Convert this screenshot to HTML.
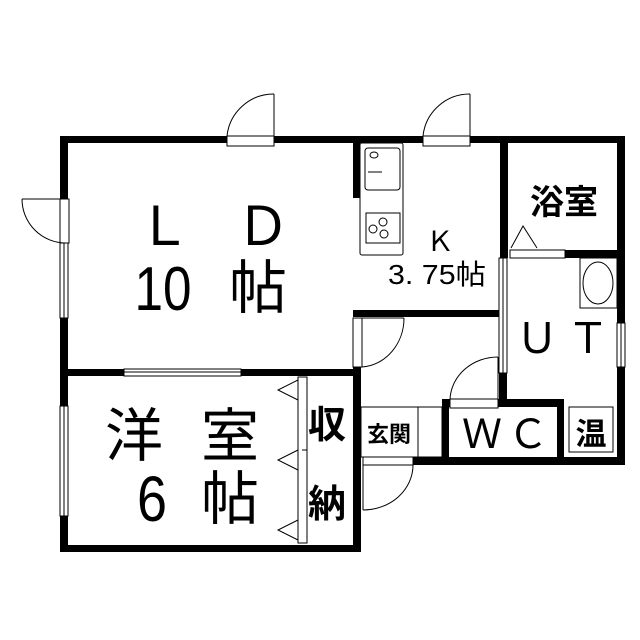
<!DOCTYPE html>
<html><head><meta charset="utf-8"><style>html,body{margin:0;padding:0;background:#fff}svg{display:block}</style></head>
<body>
<svg width="640" height="640" viewBox="0 0 640 640" xmlns="http://www.w3.org/2000/svg" font-family="'Liberation Sans','Noto Sans CJK JP',sans-serif">
<g fill="#000">
<rect x="60" y="136" width="565" height="7"/>
<rect x="60" y="136" width="8" height="64"/>
<rect x="60" y="318" width="8" height="88"/>
<rect x="60" y="516" width="8" height="36"/>
<rect x="60" y="545" width="301" height="7"/>
<rect x="353" y="367" width="8" height="185"/>
<rect x="60" y="369" width="301" height="7"/>
<rect x="353" y="140" width="7" height="58"/>
<rect x="353" y="310" width="150" height="7"/>
<rect x="500" y="140" width="8" height="118"/>
<rect x="565" y="250" width="60" height="8"/>
<rect x="617" y="136" width="8" height="187"/>
<rect x="617" y="367" width="8" height="98"/>
<rect x="499" y="373" width="8" height="34"/>
<rect x="442" y="399" width="122" height="8"/>
<rect x="442" y="399" width="7" height="66"/>
<rect x="557" y="399" width="7" height="66"/>
<rect x="413" y="457" width="212" height="8"/>
</g>
<g fill="#fff" stroke="#000" stroke-width="1">
<rect x="227" y="136" width="47" height="10"/>
<rect x="423" y="136" width="47" height="10"/>
<rect x="60" y="199" width="9" height="44"/>
<rect x="60" y="243" width="8" height="75"/>
<line x1="64" y1="243" x2="64" y2="318"/>
<rect x="60" y="406" width="8" height="110"/>
<line x1="64" y1="406" x2="64" y2="516"/>
<rect x="124" y="369" width="117" height="7"/>
<line x1="124" y1="372" x2="241" y2="372"/>
<rect x="360" y="143" width="43" height="112" rx="2"/>
<rect x="365" y="148" width="35" height="42" rx="3"/>
<rect x="366" y="213" width="34" height="30"/>
<rect x="510" y="250" width="55" height="8"/>
<rect x="499" y="258" width="8" height="115"/>
<line x1="503" y1="258" x2="503" y2="373"/>
<rect x="617" y="323" width="8" height="44"/>
<line x1="621" y1="323" x2="621" y2="367"/>
<rect x="580" y="258" width="37" height="50"/>
<rect x="353" y="318" width="9" height="49"/>
<rect x="450" y="399" width="48" height="9"/>
<rect x="361" y="407" width="81" height="50"/>
<rect x="363" y="457" width="50" height="8"/>
<rect x="569" y="407" width="44" height="45"/>
<rect x="298" y="377" width="9" height="166"/>
</g>
<g fill="none" stroke="#000" stroke-width="1">
<path d="M274 94 A47 47 0 0 0 227 136"/><line x1="274" y1="94" x2="274" y2="136"/>
<path d="M470 94 A47 47 0 0 0 423 136"/><line x1="470" y1="94" x2="470" y2="136"/>
<path d="M22 199 A44 44 0 0 0 66 243"/><line x1="22" y1="199" x2="60" y2="199"/>
<path d="M404 318 A45 49 0 0 1 362 367"/><line x1="362" y1="318" x2="404" y2="318"/>
<path d="M498 357 A48 44 0 0 0 450 400"/><line x1="498" y1="357" x2="498" y2="399"/>
<path d="M413 465 A50 45 0 0 1 363 510"/><line x1="363" y1="465" x2="363" y2="510"/>
<line x1="418" y1="407" x2="418" y2="457"/>
<line x1="368" y1="172" x2="382" y2="172"/>
<ellipse cx="374" cy="155" rx="4" ry="3"/>
<circle cx="373" cy="229" r="4"/><circle cx="383" cy="222" r="4"/><circle cx="384" cy="234" r="4"/>
<ellipse cx="598" cy="283" rx="15" ry="21"/>
<path d="M511 248 L523 226 L537 248"/>
<path d="M298 380 L278 390 L298 400"/>
<path d="M298 450 L278 460 L298 470"/>
<path d="M298 520 L278 530 L298 540"/>
<line x1="302" y1="450" x2="307" y2="450"/>
</g>
<g fill="#000" text-anchor="middle">
<text x="164" y="245" font-size="54">Ｌ</text>
<text x="263" y="245" font-size="54">Ｄ</text>
<text x="163" y="310" font-size="62" textLength="57" lengthAdjust="spacingAndGlyphs">10</text>
<text x="258" y="308" font-size="58">帖</text>
<text x="440" y="251" font-size="28">Ｋ</text>
<text x="437" y="284" font-size="28" textLength="98" lengthAdjust="spacingAndGlyphs">3. 75帖</text>
<text x="564" y="214" font-size="34" font-weight="bold">浴室</text>
<text x="537" y="353" font-size="42">Ｕ</text>
<text x="588" y="353" font-size="42">Ｔ</text>
<text x="134" y="456" font-size="58">洋</text>
<text x="230" y="456" font-size="58">室</text>
<text x="152" y="521" font-size="64" textLength="30" lengthAdjust="spacingAndGlyphs">6</text>
<text x="230" y="519" font-size="58">帖</text>
<text x="327" y="438" font-size="38" font-weight="bold">収</text>
<text x="327" y="517" font-size="38" font-weight="bold">納</text>
<text x="389" y="442" font-size="22" font-weight="bold">玄関</text>
<text x="482" y="448" font-size="40">Ｗ</text>
<text x="528" y="448" font-size="40">Ｃ</text>
<text x="591" y="445" font-size="31" font-weight="bold">温</text>
</g>
</svg>
</body></html>
